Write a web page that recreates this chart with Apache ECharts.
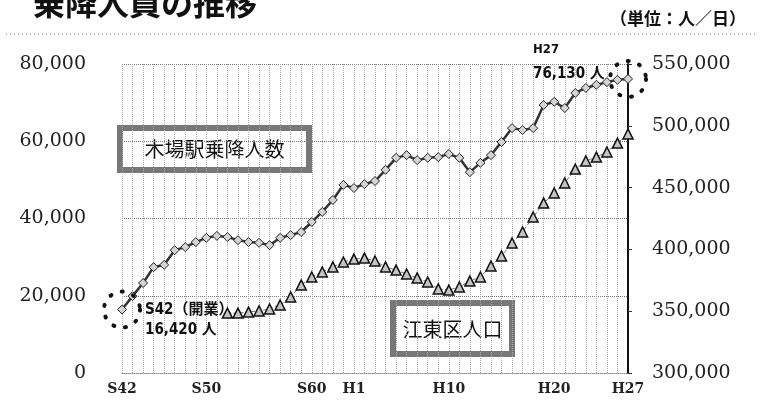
<!DOCTYPE html>
<html>
<head>
<meta charset="utf-8">
<script src="https://cdn.jsdelivr.net/npm/echarts@6.0.0/dist/echarts.min.js"></script>
<style>
  html, body { margin: 0; padding: 0; background: #fff; }
  #chart { width: 761px; height: 419px; }
</style>
</head>
<body>
<div id="chart"></div>
<script>
// 年度 (S42 = 1967 ... H27 = 2015)
const eraYears = [];
for (let y = 42; y <= 63; y++) eraYears.push("S" + y);
for (let y = 1; y <= 27; y++) eraYears.push("H" + y);

// x軸に表示する年度
const tickLabels = ["S42", "S50", "S60", "H1", "H10", "H20", "H27"];

// 木場駅乗降人数 (人/日)
const kibaRiders = [
  16420, 19900, 23300, 27400, 28000, 31800, 32600, 33900, 35000, 35500,
  35200, 34400, 33900, 33700, 33100, 35000, 35700, 36500, 39100, 41700,
  44800, 48700, 47900, 48900, 49700, 52600, 55700, 56400, 55100, 55700,
  55900, 56700, 55700, 52000, 54400, 56400, 59800, 63400, 62900, 63400,
  69400, 70200, 68600, 72500, 73800, 74600, 75300, 75900, 76130
];

// 江東区人口 (S52〜)
const kotoPopulation = [
  null, null, null, null, null, null, null, null, null, null,
  348500, 348500, 349300, 350200, 351800, 355000, 361500, 371200, 377700, 381700,
  385800, 389800, 392200, 393000, 390600, 385800, 383300, 380100, 376900, 373600,
  368000, 367100, 369600, 374400, 377700, 386600, 394700, 405200, 414100, 426200,
  437500, 445600, 453700, 465000, 471500, 474700, 478800, 486000, 493400
];

const numFmt = (v) => v.toLocaleString("en-US");
const serif = "DejaVu Serif";
const cjk = '"Noto Sans CJK JP"';
const cond = '"DejaVu Sans Condensed", "Noto Sans CJK JP"';

const chart = echarts.init(document.getElementById("chart"));

chart.setOption({
  animation: false,
  grid: { left: 122, right: 133, top: 64, bottom: 46 },
  xAxis: {
    type: "category",
    data: eraYears,
    boundaryGap: false,
    axisLine: { lineStyle: { color: "#888", type: "dotted" } },
    axisTick: { show: false },
    splitLine: {
      show: true,
      interval: 0,
      lineStyle: { color: "#aaa", type: "dotted" },
    },
    axisLabel: {
      interval: (i, v) => tickLabels.includes(v),
      fontFamily: serif,
      fontWeight: "bold",
      fontSize: 14,
      color: "#222",
      margin: 9,
    },
  },
  yAxis: [
    {
      type: "value",
      min: 0,
      max: 80000,
      interval: 20000,
      axisLine: { show: false },
      axisTick: { show: false },
      splitLine: { lineStyle: { color: "#777", type: "dotted" } },
      axisLabel: {
        formatter: numFmt,
        fontFamily: serif,
        fontSize: 19,
        color: "#222",
        margin: 36,
      },
    },
    {
      type: "value",
      position: "right",
      min: 300000,
      max: 550000,
      interval: 50000,
      axisLine: { show: true, lineStyle: { color: "#111", width: 2 } },
      axisTick: { show: true, length: 4, lineStyle: { color: "#333" } },
      splitLine: { show: false },
      axisLabel: {
        formatter: numFmt,
        fontFamily: serif,
        fontSize: 19,
        color: "#222",
        margin: 24,
      },
    },
  ],
  series: [
    {
      name: "江東区人口",
      type: "line",
      yAxisIndex: 1,
      data: kotoPopulation,
      showAllSymbol: true,
      symbol: "triangle",
      symbolSize: 10,
      lineStyle: { color: "#777", width: 1, type: "dashed" },
      itemStyle: { color: "#c4c4c4", borderColor: "#111", borderWidth: 1.5 },
      z: 3,
    },
    {
      name: "木場駅乗降人数",
      type: "line",
      yAxisIndex: 0,
      data: kibaRiders,
      showAllSymbol: true,
      symbol: "diamond",
      symbolSize: 9,
      lineStyle: { color: "#333", width: 2.5 },
      itemStyle: { color: "#d4d4d4", borderColor: "#222", borderWidth: 1 },
      z: 4,
      markPoint: {
        symbol: "circle",
        symbolSize: 36,
        label: { show: false },
        itemStyle: {
          color: "rgba(0,0,0,0)",
          borderColor: "#111",
          borderWidth: 4,
          borderType: [1, 11],
          borderCap: "round",
        },
        data: [
          { coord: [eraYears[0], kibaRiders[0]] },
          { coord: [eraYears[eraYears.length - 1], kibaRiders[kibaRiders.length - 1]] },
        ],
      },
    },
  ],
  graphic: [
    {
      type: "text",
      left: 33,
      top: -13,
      style: { text: "乗降人員の推移", font: "bold 32px " + cjk, fill: "#111" },
    },
    {
      type: "text",
      left: 610,
      top: 10,
      style: { text: "（単位：人／日）", font: "bold 17px " + cjk, fill: "#111" },
    },
    {
      type: "line",
      shape: { x1: 6, y1: 34, x2: 755, y2: 34 },
      style: { stroke: "#777", lineWidth: 1, lineDash: [1, 3] },
    },
    {
      type: "group",
      z: 10,
      children: [
        {
          type: "rect",
          shape: { x: 120, y: 128, width: 189, height: 42 },
          style: { fill: "#fff", stroke: "#777", lineWidth: 6 },
        },
        {
          type: "text",
          x: 214.5,
          y: 149,
          style: {
            text: "木場駅乗降人数",
            font: "20px " + cjk,
            fill: "#111",
            align: "center",
            verticalAlign: "middle",
          },
        },
        {
          type: "rect",
          shape: { x: 393, y: 303, width: 119, height: 51 },
          style: { fill: "#fff", stroke: "#777", lineWidth: 6 },
        },
        {
          type: "text",
          x: 452.5,
          y: 329,
          style: {
            text: "江東区人口",
            font: "20px " + cjk,
            fill: "#111",
            align: "center",
            verticalAlign: "middle",
          },
        },
      ],
    },
    {
      type: "text",
      left: 145,
      top: 303,
      z: 10,
      style: { text: "S42（開業）", font: "bold 15px " + cond, fill: "#111" },
    },
    {
      type: "text",
      left: 145,
      top: 323,
      z: 10,
      style: { text: "16,420 人", font: "bold 15px " + cond, fill: "#111" },
    },
    {
      type: "text",
      left: 533,
      top: 43,
      z: 10,
      style: { text: "H27", font: "bold 13px " + cond, fill: "#111" },
    },
    {
      type: "text",
      left: 533,
      top: 67,
      z: 10,
      style: { text: "76,130 人", font: "bold 15px " + cond, fill: "#111" },
    },
  ],
});
</script>
</body>
</html>
